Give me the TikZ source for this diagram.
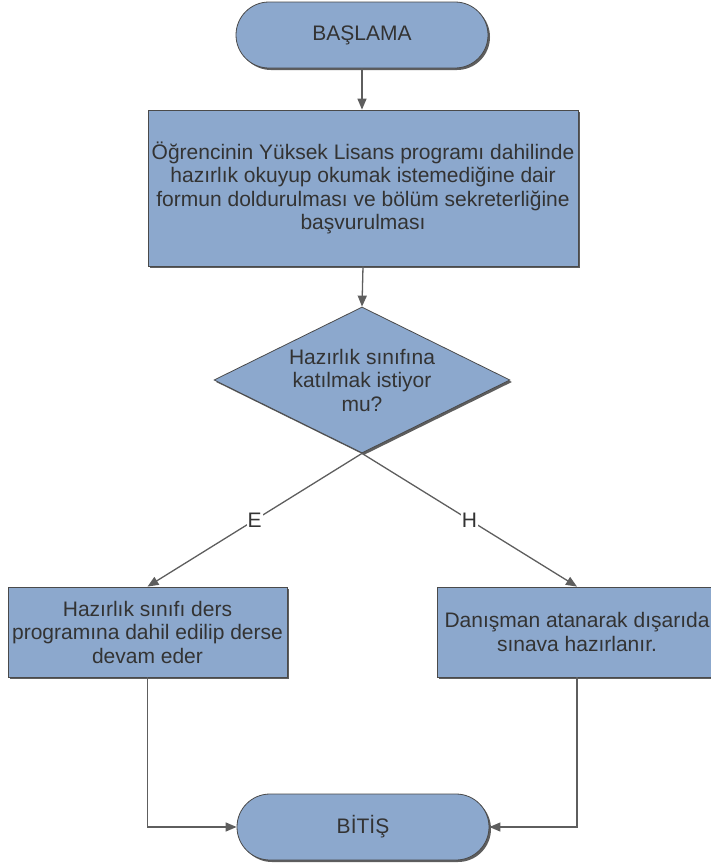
\documentclass[tikz,border=0pt]{standalone}
\usepackage{fontspec}
\setmainfont{Liberation Sans}
\usetikzlibrary{shapes.misc,shapes.geometric,arrows.meta,shadows}
\definecolor{boxfill}{HTML}{8CA8CD}
\definecolor{boxline}{HTML}{4A4A4A}
\definecolor{txt}{HTML}{333333}
\definecolor{conncol}{HTML}{5E5E5E}
\tikzset{
  base/.style={draw=boxline, fill=boxfill, line width=0.8pt, text=txt,
    font=\fontsize{21pt}{23.5pt}\selectfont, align=center, inner sep=0pt,
    drop shadow={shadow xshift=2pt, shadow yshift=-2pt, fill=black!70, opacity=0.9}},
  terminal/.style={base, rounded rectangle, minimum width=252pt, minimum height=66pt},
  procbox/.style={base, rectangle},
  decision/.style={base, diamond, shape aspect=2.03, minimum width=296pt, minimum height=146pt},
  conn/.style={draw=conncol, line width=1.3pt, -{Triangle[length=11pt,width=9pt]}},
  lbl/.style={fill=white, text=txt, font=\fontsize{21pt}{23.5pt}\selectfont, inner sep=1pt}
}
\begin{document}
\begin{tikzpicture}[x=1pt,y=-1pt]
\useasboundingbox (0,0) rectangle (710,865);
\node[terminal] (start) at (362,35) {BAŞLAMA};
\node[procbox, minimum width=430pt, minimum height=156pt] (form) at (363,188)
  {Öğrencinin Yüksek Lisans programı dahilinde\\hazırlık okuyup okumak istemediğine dair\\formun doldurulması ve bölüm sekreterliğine\\başvurulması};
\node[decision] (q) at (362,380) {Hazırlık sınıfına\\katılmak istiyor\\mu?};
\node[procbox, minimum width=279pt, minimum height=90pt] (yes) at (147.5,632)
  {Hazırlık sınıfı ders\\programına dahil edilip derse\\devam eder};
\node[procbox, minimum width=280pt, minimum height=90pt] (no) at (577,632)
  {Danışman atanarak dışarıda\\sınava hazırlanır.};
\node[terminal] (end) at (363,827) {BİTİŞ};

\draw[conn] (start.south) -- (start.south |- form.north);
\draw[conn] (form.south) -- (q.north);
\draw[conn] (q.south) -- node[lbl] {E} (yes.north);
\draw[conn] (q.south) -- node[lbl] {H} (no.north);
\draw[conn] (yes.south) |- (end.west);
\draw[conn] (no.south) |- (end.east);
\end{tikzpicture}
\end{document}
